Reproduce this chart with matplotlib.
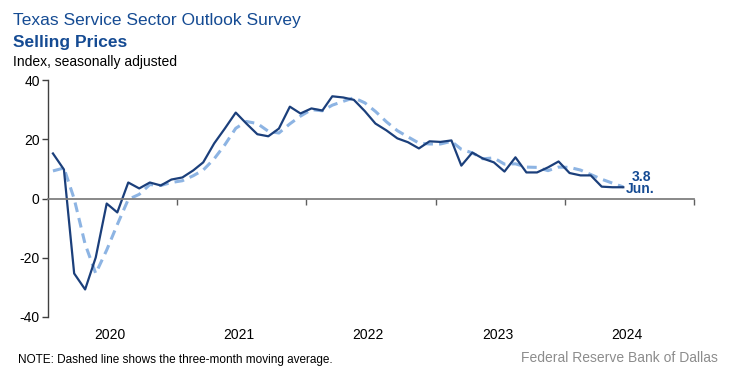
import matplotlib
matplotlib.use("Agg")
import matplotlib.pyplot as plt
import matplotlib.dates as mdates
import matplotlib.transforms as mtransforms
import pandas as pd

plt.rcParams["font.family"] = ["Liberation Sans", "DejaVu Sans"]
plt.rcParams["axes.unicode_minus"] = False

# Texas Service Sector Outlook Survey, selling prices index (Jan 2020 - Jun 2024)
months = pd.date_range("2020-01-01", "2024-06-01", freq="MS") + pd.Timedelta(days=14)
selling_prices = [
    15.2, 9.8, -25.3, -30.7, -19.9, -1.7, -4.7, 5.4, 3.4, 5.4, 4.4, 6.4,
    7.1, 9.5, 12.2, 18.6, 23.6, 29.0, 25.3, 21.7, 21.0, 23.6, 31.0, 28.7,
    30.4, 29.7, 34.5, 34.1, 33.3, 29.5, 25.3, 23.0, 20.3, 19.0, 16.9, 19.3,
    19.1, 19.6, 11.1, 15.5, 13.5, 12.2, 9.1, 13.9, 8.8, 8.8, 10.5, 12.5,
    8.6, 7.8, 7.8, 4.0, 3.8, 3.8,
]
# three-month moving average as drawn (dashed)
moving_avg = [
    9.3, 10.3, -0.1, -15.4, -25.3, -17.4, -8.8, -0.3, 1.4, 4.7, 4.4, 5.4,
    6.0, 7.7, 9.6, 13.4, 18.1, 23.7, 26.0, 25.3, 22.7, 22.1, 25.2, 27.8,
    30.0, 29.6, 31.5, 32.8, 34.0, 32.3, 29.4, 25.9, 22.9, 20.8, 18.7, 18.4,
    18.4, 19.3, 16.6, 15.4, 13.4, 13.7, 11.6, 11.7, 10.6, 10.5, 9.4, 10.6,
    10.5, 9.6, 8.1, 6.5, 5.2, 3.9,
]
years = [2020, 2021, 2022, 2023, 2024]
y_ticks = [40, 20, 0, -20, -40]

title_blue = "#154b93"
solid_blue = "#1b3f7b"
dash_blue = "#8db4e3"

fig = plt.figure(figsize=(7.35, 3.91), dpi=100)
ax = fig.add_axes([48 / 735, 1 - 317 / 391, 646 / 735, 237 / 391])

ax.plot(months, moving_avg, color=dash_blue, lw=2.2, dashes=(3.2, 2.0))
ax.plot(months, selling_prices, color=solid_blue, lw=1.6)

ax.set_ylim(-40, 40)
ax.set_yticks(y_ticks)
ax.set_xlim(pd.Timestamp("2020-01-01"), pd.Timestamp("2025-01-01"))
ax.set_xticks([pd.Timestamp(f"{y + 1}-01-01") for y in years])
ax.xaxis.set_major_formatter(mdates.DateFormatter(""))

for side in ("top", "right"):
    ax.spines[side].set_visible(False)
ax.spines["bottom"].set_position(("data", 0))
ax.spines["bottom"].set_color("#7f7f7f")
ax.spines["bottom"].set_linewidth(1.3)
ax.spines["left"].set_color("#404040")
ax.spines["left"].set_linewidth(1.0)
ax.tick_params(axis="x", direction="out", length=4, width=1.0, color="#5f5f5f")
ax.tick_params(axis="y", direction="out", length=4, width=1.0, color="#404040",
               labelsize=10, pad=2)

trans = mtransforms.blended_transform_factory(ax.transData, ax.transAxes)
for y in years:
    ax.text(pd.Timestamp(f"{y}-06-25"), -0.045, str(y), transform=trans,
            ha="center", va="top", fontsize=10)

ax.annotate(f"{selling_prices[-1]:.1f}", (months[-1], selling_prices[-1]),
            xytext=(13, 7.5), textcoords="offset points", ha="center", va="center",
            fontsize=10, fontweight="bold", color=title_blue)
ax.annotate("Jun.", (months[-1], selling_prices[-1]),
            xytext=(12.5, -1.5), textcoords="offset points", ha="center", va="center",
            fontsize=10, fontweight="bold", color=title_blue)

fig.text(13 / 735, 1 - 20 / 391, "Texas Service Sector Outlook Survey",
         fontsize=12.5, color=title_blue, va="center")
fig.text(13 / 735, 1 - 42 / 391, "Selling Prices",
         fontsize=12.5, color=title_blue, fontweight="bold", va="center")
fig.text(13 / 735, 1 - 62 / 391, "Index, seasonally adjusted",
         fontsize=10, color="black", va="center")
fig.text(18 / 735, 1 - 360 / 391, "NOTE: Dashed line shows the three-month moving average.",
         fontsize=8.5, color="black", va="center")
fig.text(718 / 735, 1 - 358 / 391, "Federal Reserve Bank of Dallas",
         fontsize=10, color="#8c8c8c", ha="right", va="center")

fig.savefig("out.png", dpi=100)
